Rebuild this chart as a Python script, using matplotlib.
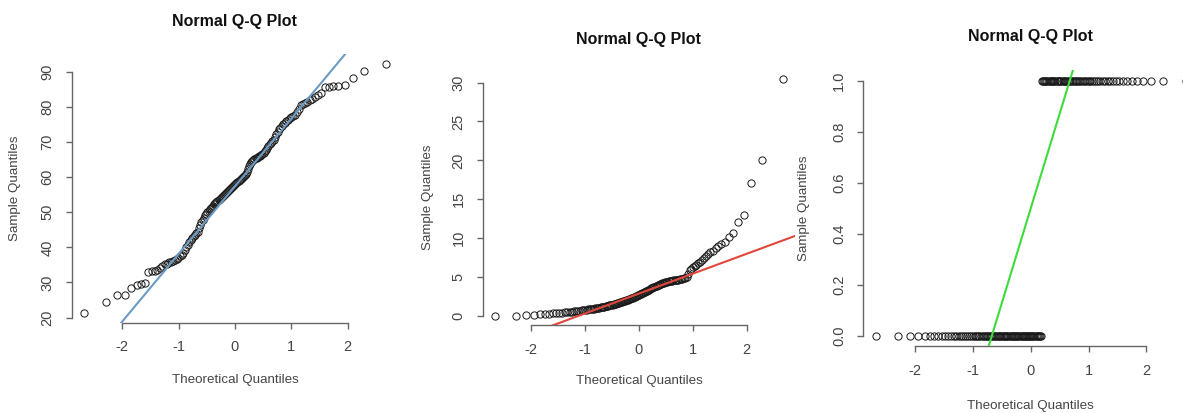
import numpy as np
import matplotlib
matplotlib.use("Agg")
import matplotlib.pyplot as plt
from statistics import NormalDist

plt.rcParams["font.family"] = ["Liberation Sans", "DejaVu Sans"]

# sorted sample values (n = 136 each)
sample_scores = [
    21.3, 24.4, 26.4, 26.5, 28.5, 29.3, 29.5, 29.9, 33.1, 33.2,
    33.4, 33.6, 34.1, 34.6, 35.2, 35.4, 35.7, 35.9, 36.1, 36.3,
    36.6, 36.9, 37.4, 37.8, 38.3, 39.2, 40.0, 40.7, 41.4, 42.0,
    42.6, 43.1, 43.6, 44.0, 44.5, 45.4, 46.3, 47.1, 47.8, 48.4,
    49.2, 49.6, 50.0, 50.4, 50.8, 51.2, 51.5, 51.9, 52.2, 52.5,
    52.8, 53.1, 53.4, 53.7, 54.0, 54.3, 54.6, 54.9, 55.1, 55.4,
    55.7, 56.0, 56.3, 56.6, 56.9, 57.2, 57.5, 57.8, 58.0, 58.3,
    58.6, 58.9, 59.2, 59.5, 59.8, 60.1, 60.4, 60.7, 61.0, 61.5,
    62.3, 63.1, 63.8, 64.3, 64.6, 64.9, 65.1, 65.3, 65.5, 65.7,
    65.9, 66.1, 66.3, 66.5, 66.8, 67.3, 67.8, 68.3, 68.8, 69.3,
    69.7, 70.2, 70.7, 71.4, 72.2, 72.9, 73.6, 74.1, 74.6, 75.1,
    75.5, 75.9, 76.3, 76.7, 77.0, 77.4, 77.8, 78.5, 79.4, 80.4,
    80.9, 81.2, 81.5, 81.9, 82.3, 82.7, 83.3, 84.0, 85.6, 85.7,
    85.8, 85.9, 86.1, 88.1, 90.1, 92.2,
]

sample_skewed = [
    0.00, 0.04, 0.09, 0.12, 0.20, 0.25, 0.30, 0.33, 0.36, 0.40,
    0.44, 0.48, 0.51, 0.54, 0.57, 0.60, 0.63, 0.66, 0.69, 0.72,
    0.75, 0.78, 0.81, 0.84, 0.87, 0.90, 0.93, 0.96, 0.99, 1.02,
    1.05, 1.08, 1.11, 1.14, 1.17, 1.20, 1.24, 1.28, 1.32, 1.36,
    1.40, 1.44, 1.48, 1.52, 1.56, 1.60, 1.64, 1.68, 1.72, 1.76,
    1.80, 1.84, 1.88, 1.92, 1.96, 2.00, 2.05, 2.10, 2.15, 2.20,
    2.26, 2.32, 2.38, 2.44, 2.50, 2.56, 2.62, 2.68, 2.74, 2.80,
    2.86, 2.92, 2.98, 3.05, 3.12, 3.19, 3.26, 3.33, 3.40, 3.47,
    3.54, 3.61, 3.68, 3.75, 3.82, 3.89, 3.95, 4.01, 4.07, 4.13,
    4.19, 4.25, 4.30, 4.34, 4.38, 4.42, 4.45, 4.48, 4.51, 4.54,
    4.57, 4.60, 4.63, 4.66, 4.69, 4.72, 4.75, 4.79, 4.83, 4.88,
    5.00, 5.45, 5.90, 6.10, 6.25, 6.40, 6.55, 6.75, 6.95, 7.20,
    7.45, 7.75, 8.00, 8.20, 8.40, 8.70, 8.95, 9.20, 9.55, 10.1,
    10.7, 12.1, 13.0, 17.1, 20.1, 30.4,
]

n_zeros, n_ones = 78, 58
sample_binary = [0.0] * n_zeros + [1.0] * n_ones

panels = [
    # data, qqline colour, y ticks, axes rect (figure fraction), text offsets
    (sample_scores, "#6b9ac4", [20, 30, 40, 50, 60, 70, 80, 90],
     [0.0607, 0.2179, 0.2757, 0.6513], (1.12, -0.212, -0.174)),
    (sample_skewed, "#e2473c", [0, 5, 10, 15, 20, 25, 30],
     [0.4083, 0.2119, 0.2635, 0.6186], (1.121, -0.217, -0.176)),
    (sample_binary, "#3ddc3d", [0.0, 0.2, 0.4, 0.6, 0.8, 1.0],
     [0.7299, 0.1617, 0.2828, 0.6676], (1.123, -0.217, -0.178)),
]
x_ticks = [-2, -1, 0, 1, 2]

AXIS_GREY = "#666666"
TEXT_GREY = "#444444"


def theoretical_quantiles(n):
    # R's ppoints for n > 10
    nd = NormalDist()
    return np.array([nd.inv_cdf((i - 0.5) / n) for i in range(1, n + 1)])


def r_range(lo, hi):
    pad = 0.04 * (hi - lo)
    return lo - pad, hi + pad


fig = plt.figure(figsize=(11.83, 4.13), dpi=100)

for values, line_color, y_ticks, rect, (t_y, xl_y, yl_x) in panels:
    y = np.sort(np.asarray(values, dtype=float))
    x = theoretical_quantiles(len(y))
    ax = fig.add_axes(rect)

    ax.plot(x, y, "o", ms=5.2, mfc="none", mec="#1a1a1a", mew=0.7, zorder=2)

    # qqline through the first and third quartiles
    q_y = np.percentile(y, [25, 75])
    q_x = np.array([NormalDist().inv_cdf(0.25), NormalDist().inv_cdf(0.75)])
    slope = (q_y[1] - q_y[0]) / (q_x[1] - q_x[0])
    ax.axline((q_x[0], q_y[0]), slope=slope, color=line_color, lw=1.5, zorder=3)

    ax.set_xlim(*r_range(x.min(), x.max()))
    ax.set_ylim(*r_range(y.min(), y.max()))
    ax.set_xticks(x_ticks)
    ax.set_yticks(y_ticks)
    ax.set_xticklabels([f"{t}" for t in x_ticks])
    ax.set_yticklabels([f"{t:g}" if isinstance(t, int) else f"{t:.1f}" for t in y_ticks],
                       rotation=90, va="center")

    for side in ("top", "right"):
        ax.spines[side].set_visible(False)
    for side in ("left", "bottom"):
        ax.spines[side].set_color(AXIS_GREY)
        ax.spines[side].set_linewidth(1.0)
    ax.spines["bottom"].set_bounds(x_ticks[0], x_ticks[-1])
    ax.spines["left"].set_bounds(y_ticks[0], y_ticks[-1])
    ax.tick_params(direction="out", length=4.5, width=1.0, color=AXIS_GREY,
                   labelcolor=TEXT_GREY, labelsize=10.5, pad=8)

    ax.set_title("Normal Q-Q Plot", fontsize=11.5, fontweight="bold",
                 color="#111111", y=t_y, pad=0, va="center")
    ax.set_xlabel("Theoretical Quantiles", fontsize=9.6, color=TEXT_GREY)
    ax.set_ylabel("Sample Quantiles", fontsize=9.6, color=TEXT_GREY)
    ax.xaxis.set_label_coords(0.5, xl_y)
    ax.xaxis.label.set_va("center")
    ax.yaxis.set_label_coords(yl_x, 0.5)
    ax.yaxis.label.set_va("center")

fig.savefig("out.png", dpi=100)
